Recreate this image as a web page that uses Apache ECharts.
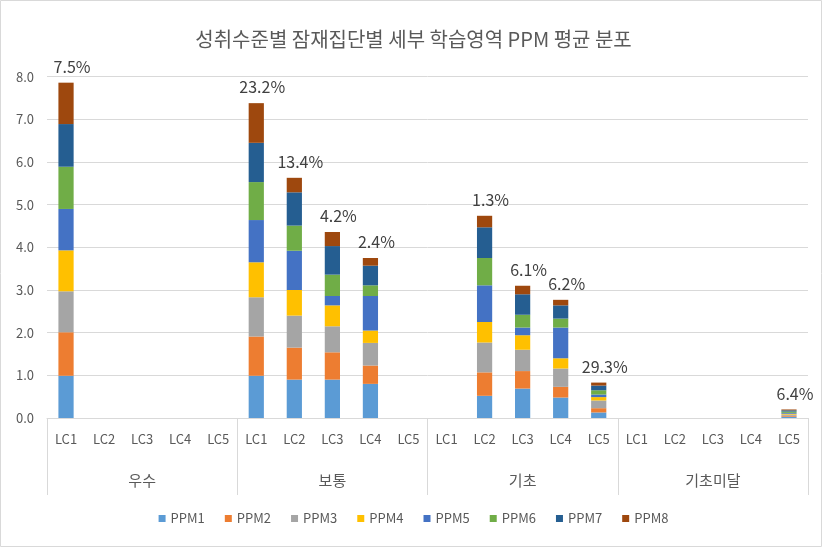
<!DOCTYPE html>
<html><head><meta charset="utf-8">
<script src="https://cdn.jsdelivr.net/npm/echarts@6/dist/echarts.min.js"></script>
<style>html,body{margin:0;padding:0;background:#fff}#c{width:827px;height:550px}</style>
</head><body><div id="c"></div>
<script>
const categories = ['LC1','LC2','LC3','LC4','LC5','LC1','LC2','LC3','LC4','LC5','LC1','LC2','LC3','LC4','LC5','LC1','LC2','LC3','LC4','LC5'];
const groups = ['우수','보통','기초','기초미달'];
const seriesNames = ['PPM1','PPM2','PPM3','PPM4','PPM5','PPM6','PPM7','PPM8'];
const colors = ['#5B9BD5','#ED7D31','#A5A5A5','#FFC000','#4472C4','#70AD47','#255E91','#9E480E'];
const ppm1 = [0.99,0,0,0,0, 0.99,0.90,0.90,0.80,0, 0,0.52,0.69,0.48,0.13, 0,0,0,0,0.03];
const ppm2 = [1.02,0,0,0,0, 0.92,0.75,0.64,0.43,0, 0,0.55,0.41,0.25,0.10, 0,0,0,0,0.02];
const ppm3 = [0.96,0,0,0,0, 0.92,0.75,0.61,0.53,0, 0,0.70,0.50,0.43,0.18, 0,0,0,0,0.03];
const ppm4 = [0.96,0,0,0,0, 0.82,0.60,0.49,0.29,0, 0,0.48,0.34,0.24,0.08, 0,0,0,0,0.02];
const ppm5 = [0.97,0,0,0,0, 0.99,0.92,0.22,0.81,0, 0,0.86,0.18,0.72,0.06, 0,0,0,0,0.02];
const ppm6 = [0.99,0,0,0,0, 0.89,0.59,0.50,0.25,0, 0,0.64,0.30,0.21,0.10, 0,0,0,0,0.03];
const ppm7 = [1.00,0,0,0,0, 0.92,0.78,0.67,0.46,0, 0,0.72,0.48,0.31,0.11, 0,0,0,0,0.03];
const ppm8 = [0.97,0,0,0,0, 0.93,0.34,0.33,0.18,0, 0,0.27,0.20,0.13,0.07, 0,0,0,0,0.02];
const pctLabels = ['7.5%','','','','', '23.2%','13.4%','4.2%','2.4%','', '','1.3%','6.1%','6.2%','29.3%', '','','','','6.4%'];
const yTicks = [0,1,2,3,4,5,6,7,8];

const allData = [ppm1,ppm2,ppm3,ppm4,ppm5,ppm6,ppm7,ppm8];
const FONT = '"Noto Sans CJK KR", "Noto Sans", sans-serif';
const chart = echarts.init(document.getElementById('c'));
const series = seriesNames.map((n,i)=>({
  name:n, type:'bar', stack:'s', xAxisIndex:0, barWidth:'40%',
  itemStyle:{color:colors[i]},
  data: allData[i].map(v=> v===0 ? null : v),
  label: i===7 ? {show:true, position:'top', distance:8, offset:[6,0], fontSize:16, color:'#404040', fontFamily:FONT,
    formatter:p=>pctLabels[p.dataIndex]} : {show:false}
}));
chart.setOption({
  animation:false,
  color: colors,
  title:{text:'성취수준별 잠재집단별 세부 학습영역 PPM 평균 분포', left:'center', top:24,
    textStyle:{fontFamily:FONT, fontSize:20, fontWeight:'normal', color:'#595959'}},
  legend:{bottom:20, left:'center', itemWidth:7, itemHeight:7, itemGap:20, icon:'rect',
    textStyle:{fontFamily:FONT, fontSize:13, color:'#595959'}, data:seriesNames},
  grid:{left:47, right:19, top:76.7, bottom:132},
  graphic:[{type:'rect', shape:{x:0.5,y:0.5,width:821,height:546}, style:{fill:null, stroke:'#d9d9d9', lineWidth:1}, silent:true}],
  xAxis:[
    {type:'category', data:categories, position:'bottom',
      axisLine:{show:true, lineStyle:{color:'#d9d9d9'}}, axisTick:{show:false},
      axisLabel:{interval:0, margin:15, fontFamily:FONT, fontSize:13, color:'#595959'}},
    {type:'category', data:groups, position:'bottom',
      axisLine:{show:false}, axisTick:{show:true, length:77, lineStyle:{color:'#d9d9d9'}},
      axisLabel:{interval:0, margin:55, fontFamily:FONT, fontSize:15, color:'#595959'}}
  ],
  yAxis:{type:'value', min:yTicks[0], max:yTicks[yTicks.length-1], interval:1,
    axisLine:{show:false}, axisTick:{show:false},
    splitLine:{lineStyle:{color:'#d9d9d9'}},
    axisLabel:{margin:13, fontFamily:FONT, fontSize:13, color:'#595959', formatter:v=>v.toFixed(1)}},
  series: series
});
</script></body></html>
